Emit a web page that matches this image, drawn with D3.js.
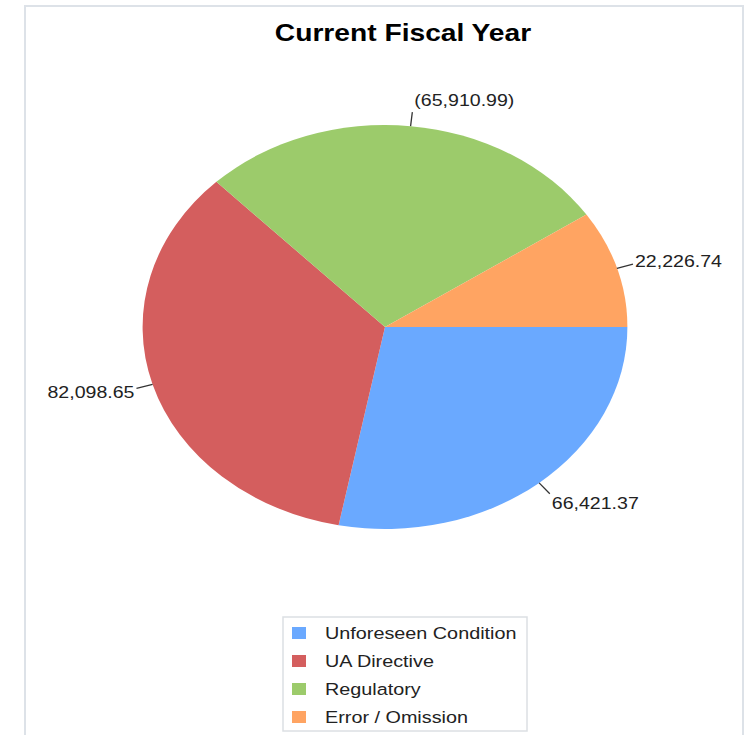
<!DOCTYPE html>
<html>
<head>
<meta charset="utf-8">
<script src="https://cdn.jsdelivr.net/npm/d3@7"></script>
<style>
  body { margin: 0; background: #fff; }
  text { font-family: "Liberation Sans", Arial, sans-serif; }
</style>
</head>
<body>
<svg width="751" height="735"></svg>
<script>
(function(d3) {
  'use strict';

  // Chart data
  const categories = ['Unforeseen Condition', 'UA Directive', 'Regulatory', 'Error / Omission'];
  const values = [66421.37, 82098.65, -65910.99, 22226.74];
  const labels = ['66,421.37', '82,098.65', '(65,910.99)', '22,226.74'];
  const colors = ['#6aa9ff', '#d45e5e', '#9ccb6b', '#ffa462'];
  const title = 'Current Fiscal Year';

  const svg = d3.select('svg');
  const stretch = 1.2; // the picture is widened horizontally
  const cx = 385;
  const cy = 327;
  const radius = 202;

  // outer frame (open at the bottom)
  svg.append('path')
      .attr('d', 'M25,736 V6 H743 V736')
      .attr('fill', 'none')
      .attr('stroke', '#dde2e8')
      .attr('stroke-width', 2);

  svg.append('text')
      .attr('transform', `translate(403,41) scale(${stretch},1)`)
      .attr('text-anchor', 'middle')
      .attr('font-size', 23.5)
      .attr('font-weight', 'bold')
      .attr('fill', '#000')
      .text(title);

  const pie = d3.pie()
      .value((d) => Math.abs(d))
      .sort(null)
      .startAngle(Math.PI / 2)
      .endAngle(Math.PI / 2 + 2 * Math.PI);
  const arcs = pie(values);

  const arc = d3.arc().innerRadius(0).outerRadius(radius);

  const pieG = svg.append('g')
      .attr('transform', `translate(${cx},${cy}) scale(${stretch},1)`);
  pieG.selectAll('path')
      .data(arcs)
      .enter()
      .append('path')
      .attr('d', arc)
      .attr('fill', (d, i) => colors[i]);

  // leader lines and value labels
  function point(a, r) {
    return [cx + Math.sin(a) * r * stretch, cy - Math.cos(a) * r];
  }
  const labelG = svg.append('g');
  arcs.forEach(function(d, i) {
    const mid = (d.startAngle + d.endAngle) / 2;
    const p0 = point(mid, radius);
    const p1 = point(mid, radius + 14);
    labelG.append('line')
        .attr('x1', p0[0]).attr('y1', p0[1])
        .attr('x2', p1[0]).attr('y2', p1[1])
        .attr('stroke', '#333')
        .attr('stroke-width', 1.3);
    const right = Math.sin(mid) >= 0;
    const ty = p1[1] - Math.cos(mid) * 12;
    labelG.append('text')
        .attr('transform', `translate(${p1[0] + (right ? 2 : -2)},${ty}) scale(${stretch},1)`)
        .attr('text-anchor', right ? 'start' : 'end')
        .attr('dy', '0.36em')
        .attr('font-size', 16.3)
        .attr('fill', '#222')
        .text(labels[i]);
  });

  // legend
  const legendG = svg.append('g');
  legendG.append('rect')
      .attr('x', 283).attr('y', 617)
      .attr('width', 244).attr('height', 114)
      .attr('fill', '#fff')
      .attr('stroke', '#dcdfe3')
      .attr('stroke-width', 1.5);

  const rowY = d3.scalePoint().domain(categories).range([633, 717]);
  const items = legendG.selectAll('g.item')
      .data(categories)
      .enter()
      .append('g')
      .attr('class', 'item');
  items.append('rect')
      .attr('x', 292)
      .attr('y', (d) => rowY(d) - 6)
      .attr('width', 14)
      .attr('height', 12)
      .attr('fill', (d, i) => colors[i]);
  items.append('text')
      .attr('transform', (d) => `translate(325,${rowY(d)}) scale(${stretch},1)`)
      .attr('dy', '0.36em')
      .attr('font-size', 16.5)
      .attr('fill', '#222')
      .text((d) => d);
}(d3));
</script>
</body>
</html>
